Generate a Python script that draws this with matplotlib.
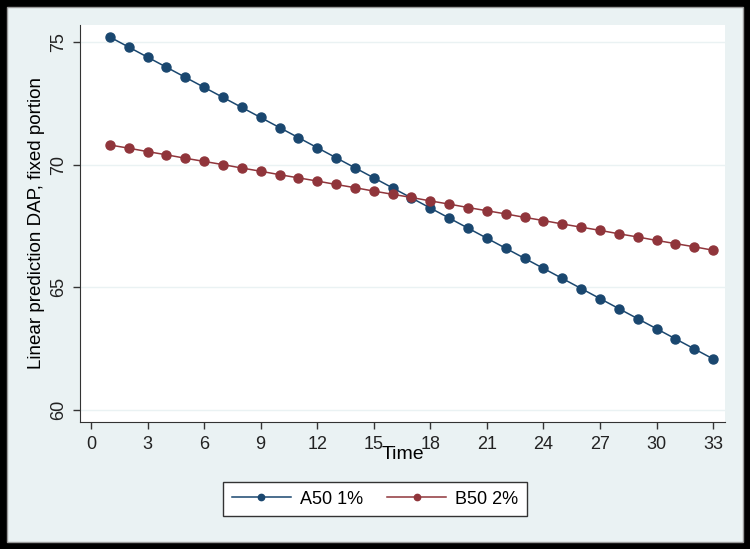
import matplotlib.pyplot as plt
from matplotlib.patches import Rectangle

# datos
time = list(range(1, 34))
a50 = [75.20, 74.79, 74.38, 73.97, 73.56, 73.15, 72.74, 72.33, 71.92, 71.51,
       71.10, 70.69, 70.28, 69.87, 69.46, 69.05, 68.64, 68.23, 67.82, 67.41,
       67.00, 66.59, 66.18, 65.77, 65.36, 64.95, 64.54, 64.13, 63.72, 63.31,
       62.90, 62.49, 62.08]
b50 = [70.80, 70.67, 70.53, 70.40, 70.26, 70.13, 70.00, 69.86, 69.73, 69.59,
       69.46, 69.33, 69.19, 69.06, 68.92, 68.79, 68.66, 68.52, 68.39, 68.25,
       68.12, 67.99, 67.85, 67.72, 67.58, 67.45, 67.32, 67.18, 67.05, 66.91,
       66.78, 66.65, 66.51]
labels = ["A50 1%", "B50 2%"]
xticks = list(range(0, 34, 3))
yticks = [60, 65, 70, 75]

plt.rcParams['font.family'] = ['Liberation Sans', 'DejaVu Sans']
bg = "#eaf2f3"

fig = plt.figure(figsize=(7.5, 5.49), dpi=100, facecolor="black")
# panel interior (estilo Stata), detrás de todo
panel = Rectangle((0.0093, 0.0128), 0.981, 0.9745, transform=fig.transFigure,
                  facecolor=bg, edgecolor="#9a9a9a", linewidth=1, zorder=-10)
fig.add_artist(panel)

ax = fig.add_axes([0.1067, 0.2313, 0.86, 0.7232])
ax.set_zorder(1)
ax.set_facecolor("white")
ax.plot(time, a50, color="#1a476f", marker="o", markersize=6.5, linewidth=1.1, label=labels[0])
ax.plot(time, b50, color="#90353b", marker="o", markersize=6.5, linewidth=1.1, label=labels[1])

ax.set_xlim(-0.58, 33.63)
ax.set_ylim(59.51, 75.69)
ax.set_xticks(xticks)
ax.set_yticks(yticks)
ax.set_yticklabels([str(v) for v in yticks], rotation=90, va="center")
ax.tick_params(labelsize=13, length=5, width=1, color="#333333", labelcolor="#222222")
ax.tick_params(axis="x", pad=5)
ax.tick_params(axis="y", pad=4)
for v in yticks:
    ax.axhline(v, color=bg, linewidth=1, zorder=0)

for s in ["top", "right"]:
    ax.spines[s].set_visible(False)
for s in ["left", "bottom"]:
    ax.spines[s].set_color("#333333")

ax.set_xlabel("Time", fontsize=14, labelpad=-5)
ax.set_ylabel("Linear prediction DAP, fixed portion", fontsize=13.5, labelpad=4)

leg = fig.legend(loc="center", bbox_to_anchor=(0.5, 0.091), ncol=2, fontsize=13,
                 frameon=True, fancybox=False, edgecolor="#333333", markerscale=0.7,
                 handlelength=3.3, handletextpad=0.5, columnspacing=1.3, borderpad=0.45,
                 framealpha=1)
leg.get_frame().set_linewidth(1)
leg.set_zorder(2)

plt.savefig("out.png", dpi=100, facecolor="black")
